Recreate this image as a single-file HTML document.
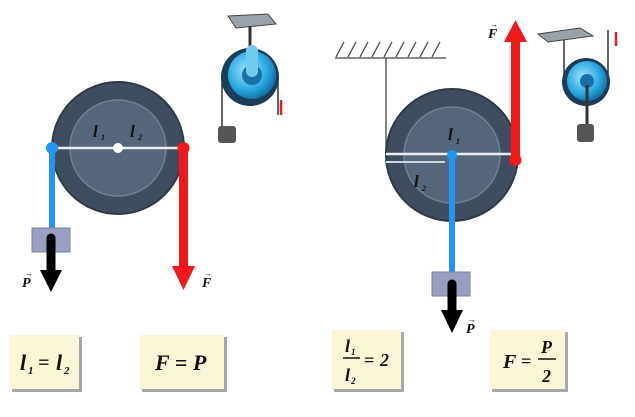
<!DOCTYPE html>
<html><head><style>
html,body{margin:0;padding:0;background:#fff;width:635px;height:417px;overflow:hidden}
.t{font-family:"Liberation Serif",serif;font-weight:bold;font-style:italic;fill:#111}
</style></head><body>
<svg width="635" height="417" viewBox="0 0 635 417" xmlns="http://www.w3.org/2000/svg">
<defs>
<radialGradient id="bl" cx="0.4" cy="0.4" r="0.7"><stop offset="0" stop-color="#9fe4ff"/><stop offset="0.6" stop-color="#2aa7e0"/><stop offset="1" stop-color="#0b5c8c"/></radialGradient>
</defs>
<!-- LEFT PULLEY -->
<circle cx="118" cy="148" r="66" fill="#3f4d5e" stroke="#2e3a48" stroke-width="2"/>
<circle cx="118" cy="148" r="48" fill="#55657a" stroke="#6f8092" stroke-width="1.5"/>
<line x1="52" y1="148" x2="183" y2="148" stroke="#e8eef2" stroke-width="2.5"/>
<circle cx="118" cy="148" r="5" fill="#fff"/>
<text x="93" y="137" class="t" font-size="17" fill="#dde">l</text><text x="101" y="140" class="t" font-size="8" fill="#dde">1</text>
<text x="130" y="137" class="t" font-size="17" fill="#dde">l</text><text x="138" y="140" class="t" font-size="8" fill="#dde">2</text>
<line x1="52" y1="148" x2="52" y2="232" stroke="#2196f3" stroke-width="6"/>
<circle cx="52" cy="148" r="6" fill="#2196f3"/>
<rect x="32" y="228" width="38" height="24" fill="#9a9ec2" stroke="#7d80a8"/>
<line x1="51" y1="238" x2="51" y2="272" stroke="#000" stroke-width="9" stroke-linecap="round"/>
<polygon points="40,270 62,270 51,292" fill="#000"/>
<rect x="179" y="146" width="9" height="122" fill="#f01818"/>
<circle cx="183.5" cy="148" r="6" fill="#f01818"/>
<polygon points="172,266 195,266 183.5,290" fill="#f01818"/>
<text x="22" y="287" class="t" font-size="14">P</text><text x="25" y="276" font-size="8">→</text>
<text x="202" y="287" class="t" font-size="14">F</text><text x="204" y="276" font-size="8">→</text>
<!-- small icon left -->
<polygon points="228,16 268,14 276,24 236,28" fill="#9aa3ab" stroke="#444"/>
<line x1="250" y1="26" x2="250" y2="50" stroke="#333" stroke-width="3"/>
<line x1="222" y1="78" x2="222" y2="126" stroke="#333" stroke-width="1.5"/>
<line x1="278" y1="78" x2="278" y2="115" stroke="#333" stroke-width="1.5"/>
<circle cx="250" cy="77" r="29" fill="#1b3d5a"/>
<circle cx="252" cy="75" r="24" fill="url(#bl)"/>
<circle cx="252" cy="75" r="10" fill="#1a6fa8"/>
<rect x="246" y="45" width="12" height="32" rx="6" fill="#6fcbee"/>
<rect x="218" y="126" width="18" height="17" rx="3" fill="#555"/>
<line x1="281" y1="100" x2="281" y2="115" stroke="#d22" stroke-width="2.5"/>
<!-- RIGHT PULLEY -->
<line x1="335" y1="58" x2="446" y2="58" stroke="#444" stroke-width="1.3"/>
<g stroke="#444" stroke-width="1.2">
<line x1="336" y1="57" x2="344" y2="42"/><line x1="348" y1="57" x2="356" y2="42"/><line x1="360" y1="57" x2="368" y2="42"/><line x1="372" y1="57" x2="380" y2="42"/><line x1="384" y1="57" x2="392" y2="42"/><line x1="396" y1="57" x2="404" y2="42"/><line x1="408" y1="57" x2="416" y2="42"/><line x1="420" y1="57" x2="428" y2="42"/><line x1="432" y1="57" x2="440" y2="42"/>
</g>
<line x1="386" y1="58" x2="386" y2="155" stroke="#444" stroke-width="1.3"/>
<circle cx="452" cy="155" r="66" fill="#3f4d5e" stroke="#2e3a48" stroke-width="2"/>
<circle cx="452" cy="155" r="48" fill="#55657a" stroke="#6f8092" stroke-width="1.5"/>
<line x1="386" y1="154" x2="516" y2="154" stroke="#e8eef2" stroke-width="2.5"/>
<line x1="386" y1="162" x2="445" y2="162" stroke="#cfd8de" stroke-width="2"/>
<text x="448" y="140" class="t" font-size="17" fill="#dde">l</text><text x="456" y="144" class="t" font-size="8" fill="#dde">1</text>
<text x="414" y="187" class="t" font-size="17" fill="#dde">l</text><text x="422" y="191" class="t" font-size="8" fill="#dde">2</text>
<line x1="452" y1="155" x2="452" y2="276" stroke="#2196f3" stroke-width="6"/>
<circle cx="452" cy="155" r="5" fill="#2196f3"/>
<rect x="432" y="272" width="38" height="24" fill="#9a9ec2" stroke="#7d80a8"/>
<line x1="452" y1="284" x2="452" y2="312" stroke="#000" stroke-width="9" stroke-linecap="round"/>
<polygon points="441,310 463,310 452,333" fill="#000"/>
<rect x="511" y="40" width="9" height="120" fill="#f01818"/>
<circle cx="515.5" cy="160" r="6" fill="#f01818"/>
<polygon points="504,42 527,42 515.5,20" fill="#f01818"/>
<text x="488" y="38" class="t" font-size="14">F</text><text x="490" y="27" font-size="8">→</text>
<text x="466" y="333" class="t" font-size="14">P</text><text x="468" y="322" font-size="8">→</text>
<!-- small icon right -->
<polygon points="538,34 580,28 593,36 548,42" fill="#9aa3ab" stroke="#444"/>
<line x1="564" y1="40" x2="564" y2="80" stroke="#333" stroke-width="1.5"/>
<line x1="608" y1="30" x2="608" y2="82" stroke="#333" stroke-width="1.5"/>
<circle cx="586" cy="82" r="24" fill="#1b3d5a"/>
<circle cx="587" cy="81" r="20" fill="url(#bl)"/>
<circle cx="587" cy="81" r="7" fill="#1a6fa8"/>
<line x1="587" y1="85" x2="587" y2="125" stroke="#333" stroke-width="3"/>
<rect x="577" y="124" width="17" height="18" rx="3" fill="#555"/>
<line x1="616" y1="32" x2="616" y2="46" stroke="#d22" stroke-width="2.5"/>
<!-- formula boxes -->
<g>
<rect x="12" y="337" width="70" height="55" fill="#a8a8a8"/><rect x="10" y="335" width="69" height="54" fill="#fcf6d8"/>
<rect x="142" y="337" width="85" height="55" fill="#a8a8a8"/><rect x="140" y="335" width="84" height="54" fill="#fcf6d8"/>
<rect x="334" y="332" width="70" height="60" fill="#a8a8a8"/><rect x="332" y="330" width="69" height="59" fill="#fcf6d8"/>
<rect x="492" y="332" width="76" height="60" fill="#a8a8a8"/><rect x="490" y="330" width="75" height="59" fill="#fcf6d8"/>
</g>
<text x="20" y="370" class="t" font-size="22">l</text><text x="28" y="374" class="t" font-size="11">1</text>
<text x="38" y="369" class="t" font-size="20" font-style="normal">=</text>
<text x="56" y="370" class="t" font-size="22">l</text><text x="64" y="374" class="t" font-size="11">2</text>
<text x="155" y="370" class="t" font-size="22">F = P</text>
<text x="345" y="352" class="t" font-size="18">l</text><text x="351" y="355" class="t" font-size="9">1</text>
<line x1="343" y1="358" x2="360" y2="358" stroke="#111" stroke-width="1.5"/>
<text x="345" y="381" class="t" font-size="18">l</text><text x="351" y="384" class="t" font-size="9">2</text>
<text x="364" y="366" class="t" font-size="18" font-style="normal">=</text>
<text x="380" y="366" class="t" font-size="18">2</text>
<text x="503" y="368" class="t" font-size="20">F</text>
<text x="521" y="367" class="t" font-size="18" font-style="normal">=</text>
<text x="541" y="353" class="t" font-size="18">P</text>
<line x1="538" y1="359" x2="556" y2="359" stroke="#111" stroke-width="1.5"/>
<text x="542" y="382" class="t" font-size="18">2</text>
</svg>
</body></html>
